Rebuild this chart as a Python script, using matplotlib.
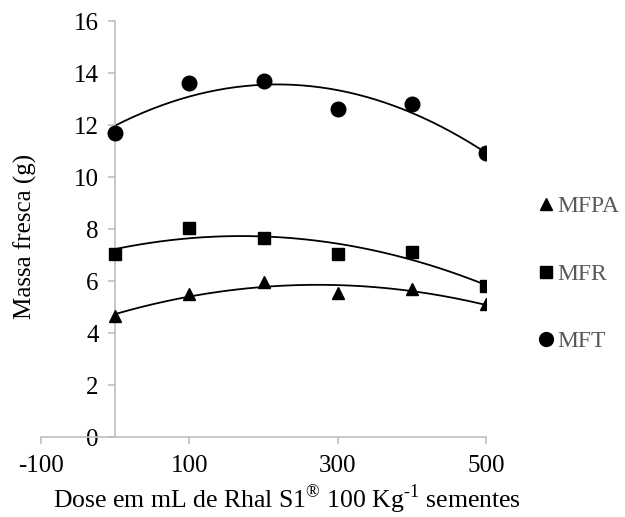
import numpy as np
import matplotlib
matplotlib.use("Agg")
from matplotlib import pyplot as plt
from matplotlib.lines import Line2D

plt.rcParams['font.family'] = ['Liberation Serif', 'DejaVu Serif']
plt.rcParams['mathtext.fontset'] = 'custom'
plt.rcParams['mathtext.rm'] = 'Liberation Serif'
plt.rcParams['axes.unicode_minus'] = False

# doses e massa fresca
doses = [0, 100, 200, 300, 400, 500]
mfpa = [4.65, 5.5, 5.95, 5.55, 5.7, 5.1]
mfr = [7.05, 8.05, 7.65, 7.05, 7.1, 5.8]
mft = [11.7, 13.63, 13.68, 12.63, 12.83, 10.92]

series = [("MFPA", mfpa, "^", 8.5), ("MFR", mfr, "s", 8.5), ("MFT", mft, "o", 10.5)]

fig = plt.figure(figsize=(6.25, 5.17), dpi=100)
ax = fig.add_axes([0.0656, 0.1547, 0.7122, 0.8043])

xs = np.linspace(0, 500, 200)
handles = []
for nome, vals, mk, ms in series:
    ax.plot(doses, vals, linestyle="none", marker=mk, markersize=ms, color="black", zorder=3)
    # linha de tendencia polinomial de 2a ordem
    coef = np.polyfit(doses, vals, 2)
    ax.plot(xs, np.polyval(coef, xs), color="black", linewidth=1.3, zorder=2)
    handles.append(Line2D([], [], linestyle="none", marker=mk, markersize=ms * 0.95, color="black", label=nome))

ax.set_xlim(-100, 500)
ax.set_ylim(0, 16)
ax.set_xticks([-100, 100, 300, 500])
ax.set_yticks(range(0, 17, 2))

ax.spines["top"].set_visible(False)
ax.spines["right"].set_visible(False)
ax.spines["left"].set_position(("data", 0))
for s in ["left", "bottom"]:
    ax.spines[s].set_color("#bfbfbf")
    ax.spines[s].set_linewidth(1.2)
ax.tick_params(axis="both", colors="#bfbfbf", width=1.2, length=5, labelsize=18, labelcolor="black")
ax.tick_params(axis="y", pad=7)
ax.tick_params(axis="x", pad=8)

ax.set_ylabel("Massa fresca (g)", fontsize=18)
ax.yaxis.set_label_coords(-0.009, 0.483)
ax.set_xlabel("Dose em mL de Rhal S1$^{\u00ae}$ 100 Kg$^{\\text{-1}}$ sementes", fontsize=18.5)
ax.xaxis.set_label_coords(0.553, -0.11)

leg = fig.legend(handles=handles, loc="center left", bbox_to_anchor=(0.829, 0.47),
                 frameon=False, fontsize=17, labelcolor="#595959",
                 handlelength=0.6, handletextpad=0.15, labelspacing=1.95)

fig.savefig("out.png", dpi=100)
